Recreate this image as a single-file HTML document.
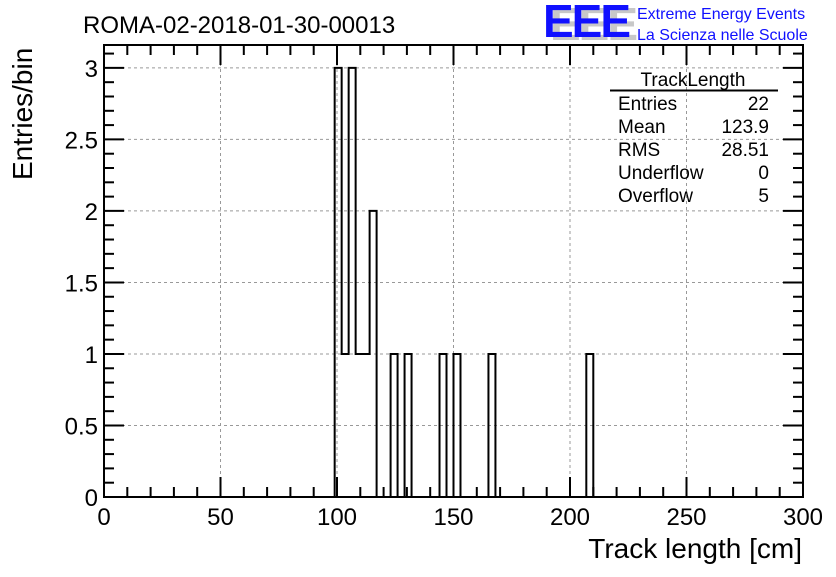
<!DOCTYPE html>
<html><head><meta charset="utf-8"><style>
body{margin:0;background:#fff;width:836px;height:572px;overflow:hidden;font-family:"Liberation Sans",sans-serif}
</style></head><body>
<svg width="836" height="572" xmlns="http://www.w3.org/2000/svg" font-family="Liberation Sans, sans-serif">
<rect width="836" height="572" fill="#fff"/>
<g id="grid"></g>
<g id="hist"></g>
<g id="axes"></g>
<text x="83" y="33" font-size="24">ROMA-02-2018-01-30-00013</text>
<g>
<text x="550" y="40" font-size="46" font-weight="bold" fill="#c8c8c8" letter-spacing="-2">EEE</text>
<text x="543" y="37" font-size="46" font-weight="bold" fill="#1010ff" letter-spacing="-2">EEE</text>
<text x="637" y="19" font-size="16" fill="#1010ff">Extreme Energy Events</text>
<text x="637" y="40" font-size="16" fill="#1010ff">La Scienza nelle Scuole</text>
</g>
<g font-size="19">
<text x="693" y="86" text-anchor="middle">TrackLength</text>
<line x1="610" y1="90.5" x2="778" y2="90.5" stroke="#000" stroke-width="2"/>
<text x="618" y="110">Entries</text><text x="769" y="110" text-anchor="end">22</text>
<text x="618" y="133">Mean</text><text x="769" y="133" text-anchor="end">123.9</text>
<text x="618" y="156">RMS</text><text x="769" y="156" text-anchor="end">28.51</text>
<text x="618" y="179">Underflow</text><text x="769" y="179" text-anchor="end">0</text>
<text x="618" y="202">Overflow</text><text x="769" y="202" text-anchor="end">5</text>
</g>
<text x="802" y="558" font-size="28" text-anchor="end">Track length [cm]</text>
<text transform="translate(32,180) rotate(-90)" font-size="28" text-anchor="start">Entries/bin</text>
</svg>
<script>
const binEdgesLow=[99,102,105,108,111,114,123,129,144,150,165,207];
const binCounts=[3,1,3,1,1,2,1,1,1,1,1,1];
const binWidth=3;
const xTicks=[0,50,100,150,200,250,300];
const yTicks=[0,0.5,1,1.5,2,2.5,3];
const yTickLabels=["0","0.5","1","1.5","2","2.5","3"];
const X0=104,X1=803,Y0=497,Y1=45,XMAX=300,YMAX=3.16;
const sx=v=>X0+(v/XMAX)*(X1-X0);
const sy=v=>Y0-(v/YMAX)*(Y0-Y1);
const NS="http://www.w3.org/2000/svg";
function mk(t,a,p){const e=document.createElementNS(NS,t);for(const k in a)e.setAttribute(k,a[k]);p.appendChild(e);return e;}
const grid=document.getElementById('grid'),axes=document.getElementById('axes'),hist=document.getElementById('hist');
xTicks.forEach(v=>{if(v>0&&v<XMAX){const l=mk('line',{x1:sx(v),x2:sx(v),y1:Y1,y2:Y0,stroke:'#999','stroke-dasharray':'3,3'},grid);

}});
yTicks.forEach(v=>{if(v>0){const l=mk('line',{x1:X0,x2:X1,y1:sy(v),y2:sy(v),stroke:'#999','stroke-dasharray':'3,3'},grid);

}});
let d='M'+sx(0)+','+sy(0);
binEdgesLow.forEach((lo,i)=>{
 const hi=lo+binWidth;
 const prevAdj=i>0&&binEdgesLow[i-1]+binWidth===lo;
 if(!prevAdj) d+=' L'+sx(lo)+','+sy(0);
 d+=' L'+sx(lo)+','+sy(binCounts[i])+' L'+sx(hi)+','+sy(binCounts[i]);
 const next=binEdgesLow[i+1];
 if(next!==hi) d+=' L'+sx(hi)+','+sy(0);
});
d+=' L'+sx(XMAX)+','+sy(0);
const p=mk('path',{d:d,fill:'none',stroke:'#000','stroke-width':2},hist);


const fr=mk('rect',{x:X0,y:Y1,width:X1-X0,height:Y0-Y1,fill:'none',stroke:'#000','stroke-width':2},axes);


for(let v=0;v<=XMAX;v+=10){const maj=v%50===0,L=maj?20:10;
 mk('line',{x1:sx(v),x2:sx(v),y1:Y0,y2:Y0-L,stroke:'#000','stroke-width':2},axes);
 mk('line',{x1:sx(v),x2:sx(v),y1:Y1,y2:Y1+L,stroke:'#000','stroke-width':2},axes);}
for(let i=0;i<=31;i++){const v=i/10;if(v>YMAX)break;const maj=i%5===0,L=maj?20:10;
 mk('line',{x1:X0,x2:X0+L,y1:sy(v),y2:sy(v),stroke:'#000','stroke-width':2},axes);
 mk('line',{x1:X1,x2:X1-L,y1:sy(v),y2:sy(v),stroke:'#000','stroke-width':2},axes);}
xTicks.forEach(v=>{const t=mk('text',{x:sx(v),y:Y0+28,'font-size':24,'text-anchor':'middle'},axes);t.textContent=String(v);

});
yTicks.forEach((v,i)=>{const t=mk('text',{x:X0-6,y:sy(v)+9,'font-size':24,'text-anchor':'end'},axes);t.textContent=yTickLabels[i];

});
</script>
</body></html>
